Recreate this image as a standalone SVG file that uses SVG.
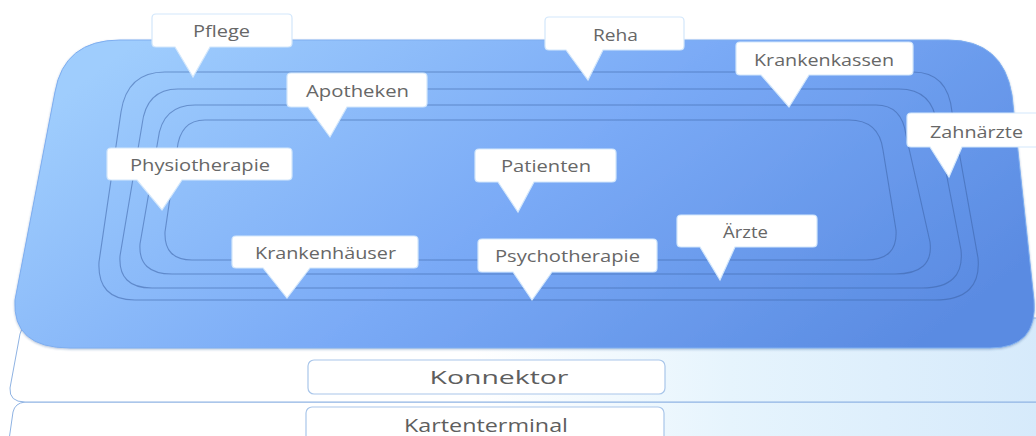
<svg xmlns="http://www.w3.org/2000/svg" width="1036" height="436" viewBox="0 0 1036 436">
<defs>
<linearGradient id="blue" x1="0" y1="0.3" x2="1" y2="0.7">
<stop offset="0" stop-color="#9fcdfd"/>
<stop offset="0.5" stop-color="#7aaaf6"/>
<stop offset="1" stop-color="#5a8be2"/>
</linearGradient>
<linearGradient id="slab" x1="0" y1="0" x2="1" y2="0">
<stop offset="0" stop-color="#ffffff"/>
<stop offset="0.45" stop-color="#ffffff"/>
<stop offset="0.7" stop-color="#e6f4fd"/>
<stop offset="1" stop-color="#d6eafb"/>
</linearGradient>
<filter id="sh" x="-5%" y="-5%" width="110%" height="115%">
<feDropShadow dx="0" dy="1" stdDeviation="1.2" flood-color="#2a4f8f" flood-opacity="0.35"/>
</filter>
</defs>
<style>
.slab{fill:url(#slab);stroke:#8fb3e3;stroke-width:1}
.box{fill:#ffffff;stroke:#a9c6ea;stroke-width:1.2}
.ring{fill:none;stroke:#3d62a6;stroke-opacity:0.55;stroke-width:1.1}
.call{fill:#ffffff;stroke:#d3e7fb;stroke-width:1.2}
.t{font-family:"Open Sans","Noto Sans","DejaVu Sans",sans-serif;font-size:17px;fill:#676767;text-anchor:middle}
.tb{font-family:"Open Sans","Noto Sans","DejaVu Sans",sans-serif;font-size:19px;fill:#5e5e5e;text-anchor:middle}
</style>
<rect width="1036" height="436" fill="#ffffff"/>
<g id="layer-kartenterminal">
<path class="slab" d="M25,402 H1040 V440 H9 L13,412 Q15,403 25,402 Z"/>
<rect class="box" x="306" y="407" width="358" height="40" rx="6"/>
<text class="tb" x="486" y="432" textLength="164" lengthAdjust="spacingAndGlyphs">Kartenterminal</text>
</g>
<g id="layer-konnektor">
<path class="slab" d="M40,318 H1040 V402 H25 Q9,402 10,388 L20,334 Q23,320 40,318 Z"/>
<rect class="box" x="308" y="360" width="357" height="34" rx="6"/>
<text class="tb" x="499" y="384" textLength="139" lengthAdjust="spacingAndGlyphs">Konnektor</text>
</g>
<g id="platform">
<path d="M120,40 H948 Q1003,40 1012,95 L1034,300 Q1038,348 990,348 H70 Q12,348 15,300 L55,92 Q64,40 120,40 Z" fill="url(#blue)" stroke="#7eaef0" stroke-width="1" filter="url(#sh)"/>
<path class="ring" d="M165,72 H913 Q948,72 952,112 L978,258 Q982,300 935,300 H135 Q97,300 99,262 L121,112 Q127,72 165,72 Z"/>
<path class="ring" d="M178,89 H899 Q933,89 937,125 L961,250 Q965,288 922,288 H152 Q118,288 120,256 L142,125 Q146,89 178,89 Z"/>
<path class="ring" d="M195,105 H876 Q902,105 906,135 L930,242 Q934,274 895,274 H172 Q138,274 140,244 L158,140 Q162,105 195,105 Z"/>
<path class="ring" d="M205,120 H849 Q879,120 883,150 L896,230 Q898,260 866,260 H192 Q164,260 165,232 L177,150 Q180,120 205,120 Z"/>
</g>
<g id="pflege">
<path class="call" d="M156,14 H288 Q292,14 292,18 V43 Q292,47 288,47 H210 L193,77 L175,47 H156 Q152,47 152,43 V18 Q152,14 156,14 Z"/>
<text class="t" x="221.5" y="37" textLength="57" lengthAdjust="spacingAndGlyphs">Pflege</text>
</g>
<g id="reha">
<path class="call" d="M549,17 H680 Q684,17 684,21 V46 Q684,50 680,50 H603 L588,80 L566,50 H549 Q545,50 545,46 V21 Q545,17 549,17 Z"/>
<text class="t" x="615.5" y="41" textLength="45" lengthAdjust="spacingAndGlyphs">Reha</text>
</g>
<g id="krankenkassen">
<path class="call" d="M740,42 H909 Q913,42 913,46 V71 Q913,75 909,75 H809 L789,107 L761,75 H740 Q736,75 736,71 V46 Q736,42 740,42 Z"/>
<text class="t" x="824" y="66" textLength="140" lengthAdjust="spacingAndGlyphs">Krankenkassen</text>
</g>
<g id="zahnaerzte">
<path class="call" d="M911,113 H1045 V147 H962 L949,177 L930,147 H911 Q907,147 907,143 V117 Q907,113 911,113 Z"/>
<text class="t" x="976.5" y="138" textLength="93" lengthAdjust="spacingAndGlyphs">Zahnärzte</text>
</g>
<g id="apotheken">
<path class="call" d="M291,73 H423 Q427,73 427,77 V103 Q427,107 423,107 H347 L330,137 L308,107 H291 Q287,107 287,103 V77 Q287,73 291,73 Z"/>
<text class="t" x="357.5" y="97" textLength="103" lengthAdjust="spacingAndGlyphs">Apotheken</text>
</g>
<g id="physiotherapie">
<path class="call" d="M111,148 H288 Q292,148 292,152 V176 Q292,180 288,180 H182 L162,210 L137,180 H111 Q107,180 107,176 V152 Q107,148 111,148 Z"/>
<text class="t" x="200" y="171" textLength="140" lengthAdjust="spacingAndGlyphs">Physiotherapie</text>
</g>
<g id="patienten">
<path class="call" d="M479,149 H612 Q616,149 616,153 V178 Q616,182 612,182 H534 L518,212 L498,182 H479 Q475,182 475,178 V153 Q475,149 479,149 Z"/>
<text class="t" x="546" y="172" textLength="90" lengthAdjust="spacingAndGlyphs">Patienten</text>
</g>
<g id="psychotherapie">
<path class="call" d="M482,239 H653 Q657,239 657,243 V268 Q657,272 653,272 H552 L532,300 L513,272 H482 Q478,272 478,268 V243 Q478,239 482,239 Z"/>
<text class="t" x="567.5" y="262" textLength="145" lengthAdjust="spacingAndGlyphs">Psychotherapie</text>
</g>
<g id="krankenhaeuser">
<path class="call" d="M236,236 H414 Q418,236 418,240 V264 Q418,268 414,268 H310 L287,298 L263,268 H236 Q232,268 232,264 V240 Q232,236 236,236 Z"/>
<text class="t" x="325.5" y="259" textLength="141" lengthAdjust="spacingAndGlyphs">Krankenhäuser</text>
</g>
<g id="aerzte">
<path class="call" d="M681,215 H813 Q817,215 817,219 V243 Q817,247 813,247 H735 L720,280 L700,247 H681 Q677,247 677,243 V219 Q677,215 681,215 Z"/>
<text class="t" x="745.5" y="238" textLength="45" lengthAdjust="spacingAndGlyphs">Ärzte</text>
</g>
<g id="connectors"></g>
</svg>
